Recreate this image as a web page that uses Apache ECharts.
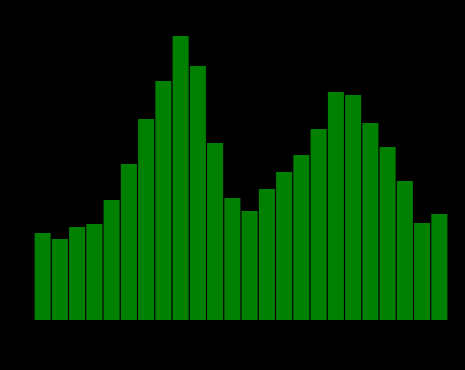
<!DOCTYPE html>
<html>
<head>
<meta charset="utf-8">
<script src="https://cdn.jsdelivr.net/npm/echarts@6/dist/echarts.min.js"></script>
<style>html,body{margin:0;padding:0;background:#000;}#c{width:465px;height:370px;}</style>
</head>
<body>
<div id="c"></div>
<script>
const categories = ['1','2','3','4','5','6','7','8','9','10','11','12','13','14','15','16','17','18','19','20','21','22','23','24'];
const values = [87, 81, 93, 96, 120, 156, 201, 239, 284, 254, 177, 122, 109, 131, 148, 165, 191, 228, 225, 197, 173, 139, 97, 106];

const chart = echarts.init(document.getElementById('c'), null, {renderer: 'canvas'});
chart.setOption({
  backgroundColor: '#000000',
  animation: false,
  grid: {left: 34, right: 17, top: 20, bottom: 50},
  xAxis: {
    type: 'category',
    data: categories,
    axisLine: {show: false},
    axisTick: {show: false},
    axisLabel: {show: false}
  },
  yAxis: {
    type: 'value',
    min: 0,
    max: 300,
    splitLine: {show: false},
    axisLine: {show: false},
    axisTick: {show: false},
    axisLabel: {show: false}
  },
  series: [{
    type: 'bar',
    data: values,
    barCategoryGap: '7%',
    itemStyle: {color: '#008000'}
  }]
});
</script>
</body>
</html>
